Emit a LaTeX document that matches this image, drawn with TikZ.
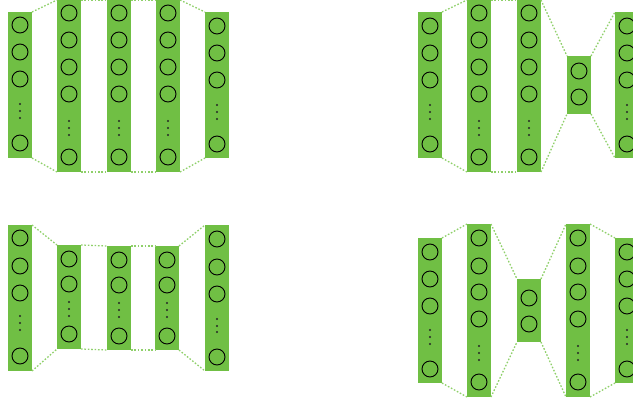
\documentclass[tikz,border=0pt]{standalone}
\definecolor{barfill}{HTML}{70BF44}
\definecolor{linkgreen}{HTML}{8FD06A}
\begin{document}
\begin{tikzpicture}[x=1pt,y=-1pt,
  bar/.style={fill=barfill,minimum width=24pt,inner sep=0pt,outer sep=0pt},
  unit/.style={circle,draw=black,line width=0.9pt,minimum size=16pt,inner sep=0pt},
  link/.style={draw=linkgreen,line width=1.3pt,dash pattern=on 1.6pt off 1.8pt},
  vdot/.style={fill=black!85}]
\useasboundingbox (0,0) rectangle (633,400);
% layers: name/x/top/bottom/unit offsets/dot offsets
\foreach \n/\x/\t/\b/\cs/\ds in {
  tl1/20/12/158/{13,40,67,131}/{92,99,106},
  tl2/69/0/172/{13,40,67,94,157}/{121,128,135},
  tl3/119/0/172/{13,40,67,94,157}/{121,128,135},
  tl4/168/0/172/{13,40,67,94,157}/{121,128,135},
  tl5/217/12/158/{14,41,68,132}/{93,100,107},
  tr1/430/12/158/{14,41,68,132}/{93,100,107},
  tr2/479/0/172/{13,40,67,94,157}/{121,128,135},
  tr3/529/0/172/{13,40,67,94,157}/{121,128,135},
  tr4/579/56/114/{15,41}/{},
  tr5/627/12/158/{14,41,68,132}/{93,100,107},
  bl1/20/225/371/{13,41,68,131}/{91,98,105},
  bl2/69/245/349/{14,39,89}/{57,64,71},
  bl3/119/246/350/{14,39,90}/{57,64,71},
  bl4/167/246/350/{14,39,90}/{57,64,71},
  bl5/217/225/371/{14,42,69,132}/{94,101,107},
  br1/430/238/383/{14,41,68,131}/{92,99,106},
  br2/479/224/397/{14,42,68,95,158}/{122,129,136},
  br3/529/279/342/{19,45}/{},
  br4/578/224/397/{14,42,68,95,158}/{122,129,136},
  br5/627/238/383/{14,41,68,131}/{92,99,106}}{
  \node[bar,minimum height=\b-\t] (\n) at (\x,{(\t+\b)/2}) {};
  \foreach \c [count=\k] in \cs
    \node[unit] (\n-\k) at (\x,\t+\c) {};
  \ifx\ds\empty\else
    \foreach \d in \ds
      \fill[vdot] (\x,\t+\d) circle (1.2pt);
  \fi
}
% dotted links between neighbouring layers
\foreach \a/\b in {tl1/tl2,tl2/tl3,tl3/tl4,tl4/tl5,
                   tr1/tr2,tr2/tr3,tr3/tr4,tr4/tr5,
                   bl1/bl2,bl2/bl3,bl3/bl4,bl4/bl5,
                   br1/br2,br2/br3,br3/br4,br4/br5}
  \draw[link] (\a.north east) -- (\b.north west)
              (\a.south east) -- (\b.south west);
\end{tikzpicture}
\end{document}
